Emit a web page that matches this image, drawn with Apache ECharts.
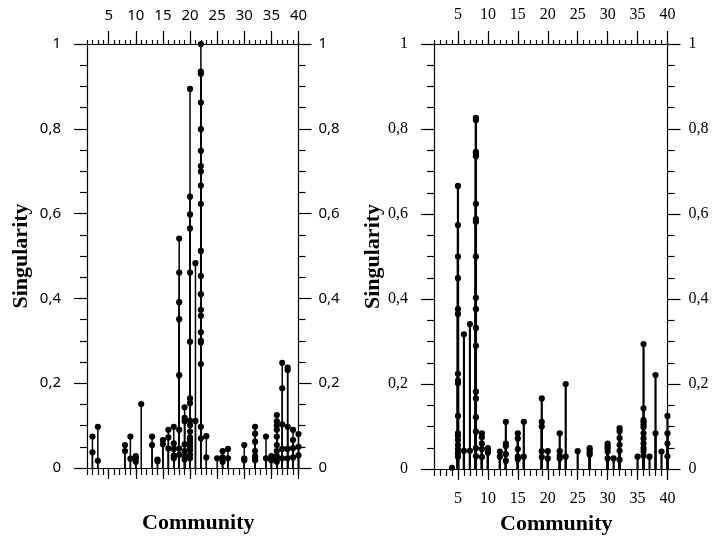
<!DOCTYPE html>
<html>
<head>
<meta charset="utf-8">
<script src="https://cdn.jsdelivr.net/npm/echarts@6/dist/echarts.min.js"></script>
<style>
  html, body { margin: 0; padding: 0; background: #fff; }
  #chart { width: 715px; height: 544px; }
</style>
</head>
<body>
<div id="chart"></div>
<script>
// ---- Data ----
const xMajorTicks = [5, 10, 15, 20, 25, 30, 35, 40];
const yTickLabels = ['0', '0,2', '0,4', '0,6', '0,8', '1'];

const leftCommunity = [2, 3, 8, 9, 10, 11, 13, 14, 15, 16, 17, 18, 19, 20, 21, 22, 23, 25, 26, 27, 30, 32, 34, 35, 36, 37, 38, 39, 40];
const leftSingularity = [
  [0.074, 0.037],
  [0.097, 0.017],
  [0.054, 0.040],
  [0.074, 0.022],
  [0.028, 0.023, 0.015],
  [0.151],
  [0.074, 0.054],
  [0.020, 0.016],
  [0.066, 0.056],
  [0.090, 0.072, 0.046],
  [0.097, 0.058, 0.045, 0.029, 0.023],
  [0.541, 0.461, 0.391, 0.351, 0.219, 0.090, 0.046, 0.031],
  [0.143, 0.118, 0.110, 0.056, 0.040, 0.028, 0.020],
  [0.894, 0.640, 0.598, 0.565, 0.461, 0.298, 0.164, 0.153, 0.112, 0.101, 0.086, 0.072, 0.066, 0.058, 0.050, 0.042, 0.031, 0.023],
  [0.483, 0.111],
  [1.000, 0.935, 0.930, 0.862, 0.799, 0.748, 0.712, 0.699, 0.666, 0.623, 0.512, 0.453, 0.410, 0.373, 0.359, 0.320, 0.300, 0.296, 0.245, 0.097, 0.070],
  [0.075, 0.025],
  [0.023],
  [0.040, 0.025, 0.015],
  [0.045, 0.023],
  [0.054, 0.023, 0.018],
  [0.097, 0.081, 0.062, 0.040, 0.028, 0.023, 0.018],
  [0.074, 0.023],
  [0.028, 0.023, 0.018],
  [0.125, 0.110, 0.100, 0.090, 0.074, 0.054, 0.040, 0.028, 0.023, 0.015],
  [0.248, 0.188, 0.103, 0.045, 0.023],
  [0.237, 0.231, 0.097, 0.045, 0.023],
  [0.090, 0.066, 0.047, 0.025],
  [0.080, 0.050, 0.030]
];

const rightCommunity = [4, 5, 6, 7, 8, 9, 10, 12, 13, 15, 16, 19, 20, 22, 23, 25, 27, 30, 31, 32, 35, 36, 37, 38, 39, 40];
const rightSingularity = [
  [0.003],
  [0.666, 0.574, 0.500, 0.449, 0.376, 0.365, 0.224, 0.208, 0.202, 0.125, 0.084, 0.078, 0.068, 0.056, 0.046, 0.037, 0.029],
  [0.317, 0.043],
  [0.341, 0.043],
  [0.826, 0.821, 0.746, 0.743, 0.736, 0.624, 0.588, 0.582, 0.500, 0.403, 0.376, 0.332, 0.290, 0.182, 0.166, 0.122, 0.088, 0.049, 0.030],
  [0.084, 0.075, 0.060, 0.047, 0.028],
  [0.049, 0.043, 0.038],
  [0.041, 0.029],
  [0.111, 0.060, 0.054, 0.035, 0.019],
  [0.084, 0.072, 0.047, 0.029, 0.023],
  [0.111, 0.029],
  [0.166, 0.111, 0.100, 0.042, 0.028],
  [0.042, 0.025],
  [0.084, 0.042, 0.031, 0.025],
  [0.200, 0.029],
  [0.042],
  [0.049, 0.045, 0.038, 0.034],
  [0.060, 0.054, 0.049, 0.041, 0.025],
  [0.025],
  [0.096, 0.089, 0.073, 0.057, 0.043, 0.022],
  [0.029],
  [0.294, 0.143, 0.115, 0.110, 0.104, 0.098, 0.084, 0.072, 0.060, 0.049, 0.041, 0.031],
  [0.029],
  [0.221, 0.084],
  [0.041],
  [0.125, 0.084, 0.060, 0.030]
];

// ---- Build ----
function toPoints(xs, ys) {
  const out = [];
  xs.forEach((x, i) => ys[i].forEach(v => out.push([x, v])));
  return out;
}

const SANS = '"Noto Sans", "DejaVu Sans", sans-serif';
const SERIF = '"Liberation Serif", "DejaVu Serif", serif';

function yLabel(v) {
  const idx = Math.round(v / 0.2);
  return yTickLabels[idx] !== undefined ? yTickLabels[idx] : '';
}

function xAxesFor(grid, font, fontSize, showBottomLabels) {
  const base = { gridIndex: grid, type: 'value', min: 1, max: 40, splitLine: { show: false } };
  const lineStyle = { color: '#000', width: 1.2 };
  return [
    Object.assign({}, base, {
      position: 'bottom', interval: 1,
      axisLine: { show: true, onZero: false, lineStyle },
      axisTick: { show: true, length: 7, lineStyle },
      axisLabel: { show: false },
      name: 'Community', nameLocation: 'middle', nameGap: 44,
      nameTextStyle: { fontFamily: SERIF, fontWeight: 'bold', fontSize: 22, color: '#000',
        padding: [0, 0, 0, 11] }
    }),
    Object.assign({}, base, {
      position: 'bottom',
      axisLine: { show: false, onZero: false },
      axisTick: { show: true, length: 11, customValues: xMajorTicks, lineStyle },
      axisLabel: { show: showBottomLabels, customValues: xMajorTicks, margin: 22,
        fontFamily: font, fontSize, color: '#000' }
    }),
    Object.assign({}, base, {
      position: 'top', interval: 1,
      axisLine: { show: true, onZero: false, lineStyle },
      axisTick: { show: true, length: 4, lineStyle },
      axisLabel: { show: false }
    }),
    Object.assign({}, base, {
      position: 'top',
      axisLine: { show: false, onZero: false },
      axisTick: { show: true, length: 13, customValues: xMajorTicks, lineStyle },
      axisLabel: { show: true, customValues: xMajorTicks, margin: 21,
        fontFamily: font, fontSize, color: '#000' }
    })
  ];
}

function yAxesFor(grid, font, fontSize, leftMargin, rightMargin, nameGap) {
  const lineStyle = { color: '#000', width: 1.2 };
  const base = {
    gridIndex: grid, type: 'value', min: 0, max: 1, interval: 0.2,
    splitLine: { show: false },
    axisLine: { show: true, onZero: false, lineStyle },
    axisTick: { show: true, length: 13, lineStyle },
    minorTick: { show: true, splitNumber: 4, length: 7, lineStyle },
    minorSplitLine: { show: false }
  };
  return [
    Object.assign({}, base, {
      position: 'left',
      axisLabel: { formatter: yLabel, margin: leftMargin, fontFamily: font, fontSize, color: '#000' },
      name: 'Singularity', nameLocation: 'middle', nameGap: nameGap, nameRotate: 90,
      nameTextStyle: { fontFamily: SERIF, fontWeight: 'bold', fontSize: 22, color: '#000' }
    }),
    Object.assign({}, base, {
      position: 'right',
      axisLabel: { formatter: yLabel, margin: rightMargin, fontFamily: font, fontSize, color: '#000' }
    })
  ];
}

function stemSeries(xIdx, yIdx, data, lw) {
  return {
    type: 'custom',
    xAxisIndex: xIdx, yAxisIndex: yIdx,
    clip: false,
    data: data,
    renderItem: function (params, api) {
      const x = api.value(0), y = api.value(1);
      const p0 = api.coord([x, 0]);
      const p1 = api.coord([x, y]);
      return {
        type: 'group',
        children: [
          { type: 'line', shape: { x1: p0[0], y1: p0[1], x2: p1[0], y2: p1[1] },
            style: { stroke: '#000', lineWidth: lw } },
          { type: 'circle', shape: { cx: p1[0], cy: p1[1], r: 3.1 },
            style: { fill: '#000' } }
        ]
      };
    }
  };
}

const chart = echarts.init(document.getElementById('chart'), null, { renderer: 'canvas' });
chart.setOption({
  animation: false,
  backgroundColor: '#fff',
  grid: [
    { left: 87, top: 44, width: 211.5, height: 424 },
    { left: 434, top: 44, width: 233.5, height: 425 }
  ],
  xAxis: [].concat(
    xAxesFor(0, SANS, 15, false),
    xAxesFor(1, SERIF, 16, true)
  ),
  yAxis: [].concat(
    yAxesFor(0, SANS, 15, 26, 20, 55),
    yAxesFor(1, SERIF, 16, 26, 21, 47)
  ),
  series: [
    stemSeries(0, 0, toPoints(leftCommunity, leftSingularity), 1.5),
    stemSeries(4, 2, toPoints(rightCommunity, rightSingularity), 2.2)
  ]
});
</script>
</body>
</html>
